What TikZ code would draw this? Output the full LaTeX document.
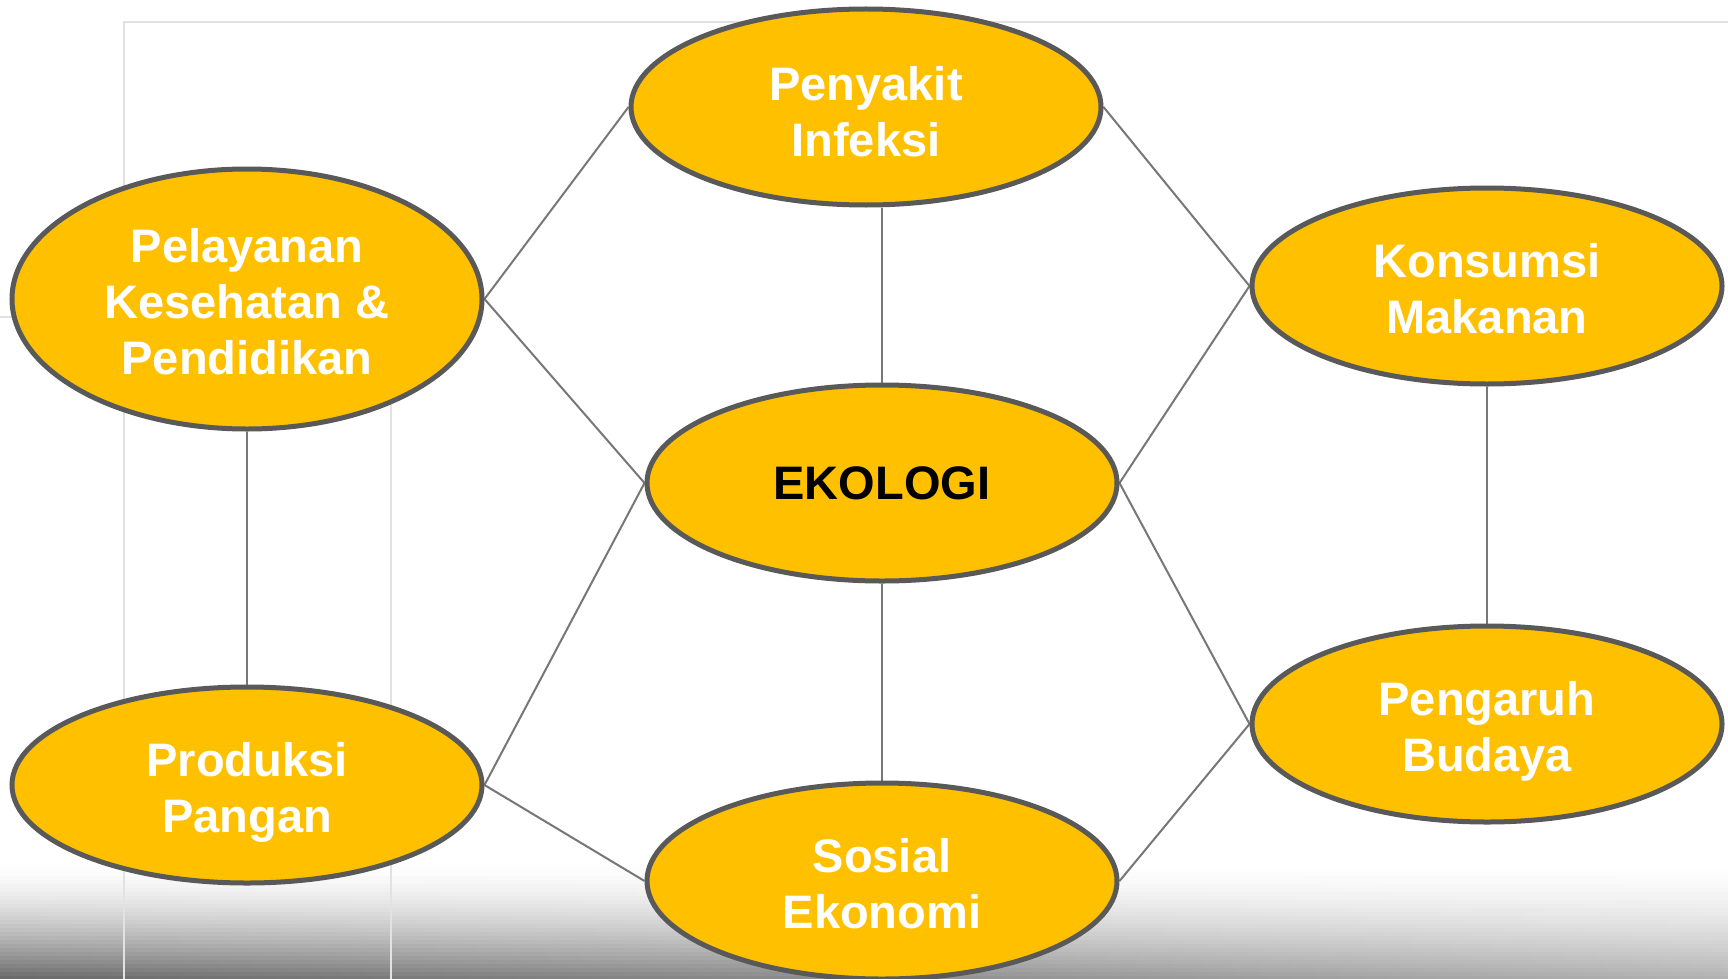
\documentclass[tikz,border=0pt]{standalone}
\usepackage{fontspec}
\setmainfont{Liberation Sans}
\usetikzlibrary{shapes.geometric,backgrounds}
\definecolor{fillY}{HTML}{FFC000}
\definecolor{bord}{HTML}{595959}
\definecolor{conn}{HTML}{777777}
\definecolor{frame}{HTML}{E2E2E2}
\tikzset{
  oval/.style={ellipse, draw=bord, line width=5pt, fill=fillY, inner sep=0pt,
    minimum width=470pt, minimum height=196pt},
  lbl/.style={align=center, text=white, inner sep=0pt,
    font=\fontsize{47}{56}\selectfont\bfseries},
  conline/.style={draw=conn, line width=2pt},
  frameline/.style={draw=frame, line width=2.5pt}
}
\begin{document}
\begin{tikzpicture}[x=1pt,y=-1pt]
\useasboundingbox (0,0) rectangle (1728,979);
\node[oval, minimum height=260pt] (pel) at (247,299) {};
\node[oval] (pen) at (866,107) {};
\node[oval] (kon) at (1487,286) {};
\node[oval] (eko) at (882,483) {};
\node[oval] (pro) at (247,785) {};
\node[oval] (sos) at (882,881) {};
\node[oval] (pgr) at (1487,724) {};
\node[lbl] (pelT) at ([yshift=-3pt]pel.center) {Pelayanan\\Kesehatan \&\\Pendidikan};
\node[lbl] (penT) at ([yshift=-5pt]pen.center) {Penyakit\\Infeksi};
\node[lbl] (konT) at ([yshift=-3pt]kon.center) {Konsumsi\\Makanan};
\node[lbl, text=black] (ekoT) at (eko.center) {EKOLOGI};
\node[lbl] (proT) at ([yshift=-7pt]pro.center) {Produksi\\Pangan};
\node[lbl] (sosT) at ([yshift=-3pt]sos.center) {Sosial\\Ekonomi};
\node[lbl] (pgrT) at ([yshift=-7pt]pgr.center) {Pengaruh\\Budaya};
\begin{scope}[on background layer]
  \fill[white] (0,0) rectangle (1728,979);
  \foreach \i in {0,...,29}{
    \pgfmathsetmacro{\t}{(\i/29)^1.6}
    \pgfmathsetmacro{\cl}{58*\t}
    \pgfmathsetmacro{\cm}{14*\t}
    \pgfmathsetmacro{\cr}{30*\t}
    \fill[left color=black!\cl, middle color=black!\cm, right color=black!\cr]
      (0,{860+4*\i}) rectangle (1728,{865+4*\i});
  }
  \draw[frameline] (1728,22) -- (124,22) -- (124,979);
  \draw[frameline] (0,317) -- (391,317) -- (391,979);
\end{scope}
\begin{scope}[on background layer]
  \draw[conline] (pel.east) -- (pen.west);
  \draw[conline] (pel.east) -- (eko.west);
  \draw[conline] (eko.north) -- (eko.north |- pen.south);
  \draw[conline] (pen.east) -- (kon.west);
  \draw[conline] (eko.east) -- (kon.west);
  \draw[conline] (eko.east) -- (pgr.west);
  \draw[conline] (kon.south) -- (pgr.north);
  \draw[conline] (pel.south) -- (pro.north);
  \draw[conline] (eko.west) -- (pro.east);
  \draw[conline] (pro.east) -- (sos.west);
  \draw[conline] (eko.south) -- (sos.north);
  \draw[conline] (sos.east) -- (pgr.west);
\end{scope}
\end{tikzpicture}
\end{document}
